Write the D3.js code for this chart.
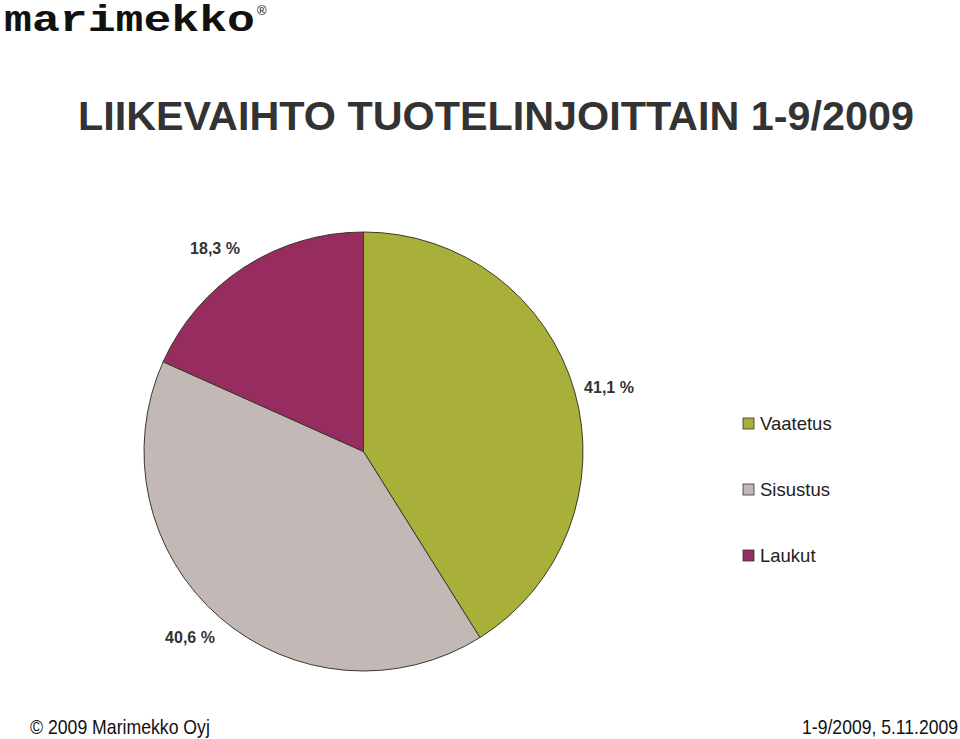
<!DOCTYPE html>
<html><head><meta charset="utf-8">
<script src="https://cdn.jsdelivr.net/npm/d3@7"></script>
<style>body{margin:0;background:#fff;}svg{display:block;}</style>
</head><body>
<svg id="c" width="960" height="739"></svg>
<script>
const categories = ["Vaatetus", "Sisustus", "Laukut"];
const values = [41.1, 40.6, 18.3];
const labels = ["41,1 %", "40,6 %", "18,3 %"];
const colors = ["#a8b03a", "#c2b9b7", "#962c5f"];

const svg = d3.select("#c");
const W = 960, H = 739;
svg.append("rect").attr("width", W).attr("height", H).attr("fill", "#fff");

function fitText(sel, target) {
  const fs = +sel.attr("font-size");
  const w = sel.node().getComputedTextLength();
  if (w > 0) sel.attr("font-size", (fs * target / w).toFixed(2));
  return sel;
}

// logo
const logo = svg.append("text").attr("x", 0).attr("y", 0)
  .attr("font-family", "Liberation Mono, DejaVu Sans Mono, monospace")
  .attr("font-weight", "bold").attr("font-size", 37)
  .attr("fill", "#111").text("marimekko");
const lw = logo.node().getComputedTextLength();
logo.attr("transform", `translate(4,31) scale(${(251 / lw).toFixed(4)},1)`);
svg.append("text").attr("x", 257).attr("y", 15)
  .attr("font-family", "Liberation Sans, Arial, sans-serif")
  .attr("font-size", 13).attr("fill", "#111").text("®");

// title
fitText(svg.append("text").attr("x", 78).attr("y", 130)
  .attr("font-family", "Liberation Sans, Arial, sans-serif")
  .attr("font-weight", "bold").attr("font-size", 45)
  .attr("fill", "#333").text("LIIKEVAIHTO TUOTELINJOITTAIN 1-9/2009"), 836);

// pie
const cx = 363.5, cy = 451.5, r = 219.5;
const pie = d3.pie().sort(null).value(d => d)(values);
const arc = d3.arc().innerRadius(0).outerRadius(r);
const g = svg.append("g").attr("transform", `translate(${cx},${cy})`);
g.selectAll("path").data(pie).join("path")
  .attr("d", arc)
  .attr("fill", (d, i) => colors[i])
  .attr("stroke", "#3a3a2a").attr("stroke-width", 1);

// labels
const labelPos = [[609, 393], [190, 643], [215, 254]];
svg.selectAll("text.lbl").data(labels).join("text")
  .attr("class", "lbl")
  .attr("x", (d, i) => labelPos[i][0]).attr("y", (d, i) => labelPos[i][1])
  .attr("text-anchor", "middle")
  .attr("font-family", "Liberation Sans, Arial, sans-serif")
  .attr("font-weight", "bold").attr("font-size", 16)
  .attr("fill", "#333").text(d => d);

// legend
const legY = d3.scalePoint().domain(categories).range([423, 555]);
const leg = svg.selectAll("g.leg").data(categories).join("g")
  .attr("class", "leg")
  .attr("transform", d => `translate(743,${legY(d)})`);
leg.append("rect").attr("x", 0).attr("y", -5).attr("width", 11).attr("height", 11)
  .attr("fill", (d, i) => colors[i]).attr("stroke", "#333").attr("stroke-width", 0.8);
leg.append("text").attr("x", 17).attr("y", 7)
  .attr("font-family", "Liberation Sans, Arial, sans-serif")
  .attr("font-size", 18.5).attr("fill", "#222").text(d => d);

// footer
const f1 = svg.append("text").attr("x", 0).attr("y", 0)
  .attr("font-family", "Liberation Sans Narrow, Liberation Sans, Arial, sans-serif")
  .attr("font-size", 20).attr("fill", "#111").text("© 2009 Marimekko Oyj");
f1.attr("transform", `translate(30,734) scale(${(180 / f1.node().getComputedTextLength()).toFixed(4)},1)`);
const f2 = svg.append("text").attr("x", 0).attr("y", 0).attr("text-anchor", "end")
  .attr("font-family", "Liberation Sans Narrow, Liberation Sans, Arial, sans-serif")
  .attr("font-size", 20).attr("fill", "#111").text("1-9/2009, 5.11.2009");
f2.attr("transform", `translate(958,734) scale(${(156 / f2.node().getComputedTextLength()).toFixed(4)},1)`);
</script>
</body></html>
